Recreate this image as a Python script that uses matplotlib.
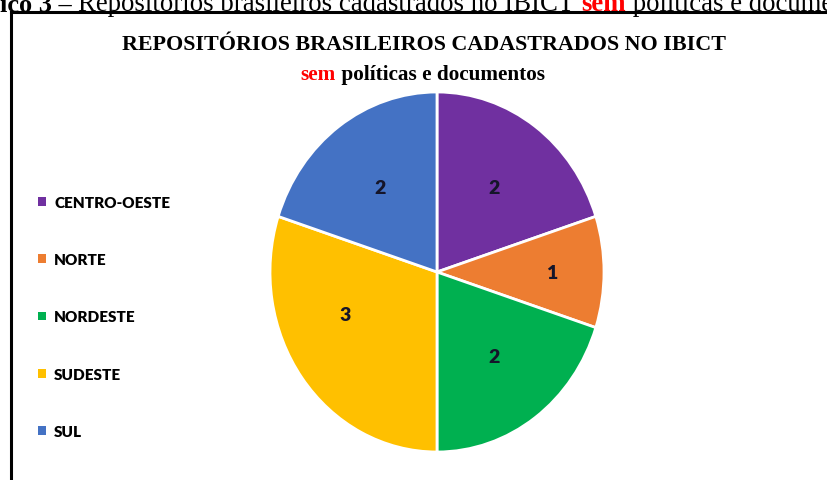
import matplotlib
matplotlib.use("Agg")
import matplotlib.pyplot as plt
from matplotlib.lines import Line2D
import numpy as np

# dados do gráfico
regioes = ["CENTRO-OESTE", "NORTE", "NORDESTE", "SUDESTE", "SUL"]
valores = [2, 1, 2, 3, 2]
cores = ["#7030A0", "#ED7D31", "#00B050", "#FFC000", "#4472C4"]

fig = plt.figure(figsize=(8.27, 4.81), dpi=100)
fig.patch.set_facecolor("white")

# eixo de fundo para textos encadeados
bg = fig.add_axes([0, 0, 1, 1])
bg.axis("off")
bg.set_xlim(0, 1)
bg.set_ylim(0, 1)

# legenda da figura (cortada no topo)
t1 = bg.text(0.0, 1 - 17 / 481, "ico 3 – ", fontsize=19, fontweight="bold",
             family="Liberation Serif", va="bottom", ha="left")
t2 = bg.annotate("Repositórios brasileiros cadastrados no IBICT ", xy=(1, 0), xycoords=t1,
                 fontsize=19.3, family="Liberation Serif", va="bottom", ha="left")
t3 = bg.annotate("sem", xy=(1, 0), xycoords=t2, fontsize=19.3, fontweight="bold",
                 color="#FF0000", family="Liberation Serif", va="bottom", ha="left")
bg.annotate(" políticas e documentos", xy=(1, 0), xycoords=t3, fontsize=19.3,
            family="Liberation Serif", va="bottom", ha="left")

# moldura
fig.add_artist(Line2D([11 / 827, 1], [1 - 13 / 481] * 2, color="black", lw=2.2,
                      transform=fig.transFigure))
fig.add_artist(Line2D([11 / 827] * 2, [0, 1 - 13 / 481], color="black", lw=2.2,
                      transform=fig.transFigure))

# título
fig.text(424 / 827, 1 - 45 / 481, "REPOSITÓRIOS BRASILEIROS CADASTRADOS NO IBICT",
         fontsize=15.8, fontweight="bold", family="Liberation Serif",
         ha="center", va="center")
fig.text(336 / 827, 1 - 75 / 481, "sem", fontsize=15.3, fontweight="bold",
         family="Liberation Serif", color="#FF0000", ha="right", va="center")
fig.text(336 / 827, 1 - 75 / 481, " políticas e documentos", fontsize=15.3,
         fontweight="bold", family="Liberation Serif", ha="left", va="center")

# pizza
ax = fig.add_axes([(437 - 167) / 827, (481 - 453) / 481, 334 / 827, 360 / 481])
wedges, textos, autotextos = ax.pie(
    valores, colors=cores, startangle=90, counterclock=False,
    autopct=lambda p: "%d" % round(p * sum(valores) / 100.0),
    pctdistance=0.58,
    wedgeprops=dict(edgecolor="white", linewidth=2.0),
    textprops=dict(fontsize=14, fontweight="heavy", family="Lato", color="#15152a"),
)
ax.set_aspect("auto")
ax.set_xlim(-1.0, 1.0)
ax.set_ylim(-1.0, 1.0)

# rótulo do NORTE fica mais para fora, o do SUDESTE um pouco girado
x, y = autotextos[1].get_position()
autotextos[1].set_position((x * 0.69 / 0.58, y * 0.69 / 0.58))
w = wedges[3]
ang = np.deg2rad((w.theta1 + w.theta2) / 2 - 13)
autotextos[3].set_position((0.6 * np.cos(ang), 0.6 * np.sin(ang)))

leg = fig.legend(wedges, regioes, loc="center left",
                 bbox_to_anchor=(38 / 827, 1 - 318 / 481), frameon=False,
                 handlelength=0.5, handleheight=0.5, handletextpad=0.55,
                 labelspacing=2.9, borderpad=0, borderaxespad=0,
                 prop=dict(family="Lato", weight="heavy", size=11))
for h in leg.legend_handles:
    h.set_edgecolor("none")

fig.savefig("out.png", dpi=100, facecolor="white")
